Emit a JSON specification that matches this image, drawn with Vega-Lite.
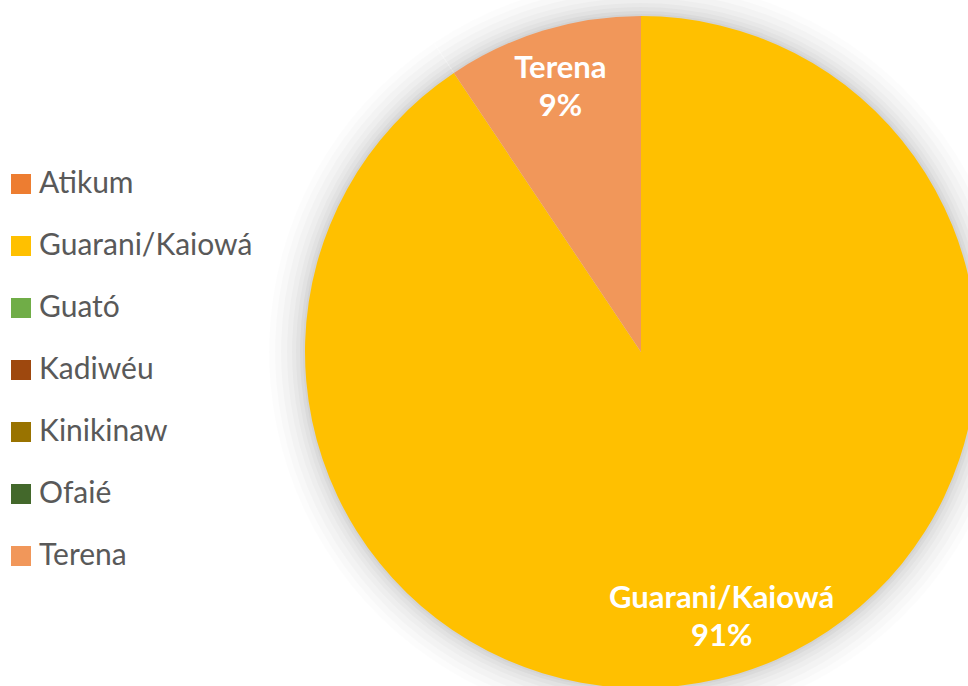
{
  "$schema": "https://vega.github.io/schema/vega-lite/v6.json",
  "width": 672,
  "height": 672,
  "autosize": {"type": "none"},
  "padding": {"left": 305, "top": 16, "right": 0, "bottom": 0},
  "background": "white",
  "config": {"view": {"stroke": null}},
  "data": {
    "values": [
      {"etnia": "Atikum", "valor": 0, "ordem": 1, "rotulo": ""},
      {"etnia": "Guarani/Kaiowá", "valor": 90.6, "ordem": 2, "rotulo": "Guarani/Kaiowá\n91%"},
      {"etnia": "Guató", "valor": 0, "ordem": 3, "rotulo": ""},
      {"etnia": "Kadiwéu", "valor": 0, "ordem": 4, "rotulo": ""},
      {"etnia": "Kinikinaw", "valor": 0, "ordem": 5, "rotulo": ""},
      {"etnia": "Ofaié", "valor": 0, "ordem": 6, "rotulo": ""},
      {"etnia": "Terena", "valor": 9.4, "ordem": 7, "rotulo": "Terena\n9%"}
    ]
  },
  "encoding": {
    "theta": {"field": "valor", "type": "quantitative", "stack": true},
    "order": {"field": "ordem", "type": "quantitative"}
  },
  "layer": [
    {"mark": {"type": "arc", "outerRadius": 372, "color": "black", "opacity": 0.012}},
    {"mark": {"type": "arc", "outerRadius": 366, "color": "black", "opacity": 0.015}},
    {"mark": {"type": "arc", "outerRadius": 360, "color": "black", "opacity": 0.018}},
    {"mark": {"type": "arc", "outerRadius": 354, "color": "black", "opacity": 0.02}},
    {"mark": {"type": "arc", "outerRadius": 349, "color": "black", "opacity": 0.022}},
    {"mark": {"type": "arc", "outerRadius": 345, "color": "black", "opacity": 0.025}},
    {"mark": {"type": "arc", "outerRadius": 341, "color": "black", "opacity": 0.03}},
    {"mark": {"type": "arc", "outerRadius": 338, "color": "black", "opacity": 0.03}},
    {
      "mark": {"type": "arc", "outerRadius": 336},
      "encoding": {
        "color": {
          "field": "etnia",
          "type": "nominal",
          "scale": {
            "domain": ["Atikum", "Guarani/Kaiowá", "Guató", "Kadiwéu", "Kinikinaw", "Ofaié", "Terena"],
            "range": ["#ED7D31", "#FFC000", "#70AD47", "#9E480E", "#997300", "#43682B", "#F1975A"]
          },
          "legend": {
            "orient": "none",
            "legendX": -299,
            "legendY": 153,
            "title": null,
            "padding": 0,
            "symbolType": "square",
            "symbolSize": 400,
            "symbolStrokeWidth": 0,
            "symbolOpacity": 1,
            "labelFont": "Lato",
            "labelFontSize": 30,
            "labelColor": "#595959",
            "labelOffset": 3,
            "rowPadding": 32,
            "labelLimit": 400
          }
        }
      }
    },
    {
      "mark": {
        "type": "text",
        "radius": 277,
        "dy": -18,
        "font": "Lato",
        "fontSize": 31,
        "fontWeight": "bold",
        "color": "white",
        "lineBreak": "\n",
        "lineHeight": 38
      },
      "encoding": {
        "text": {"field": "rotulo", "type": "nominal"}
      }
    }
  ]
}
